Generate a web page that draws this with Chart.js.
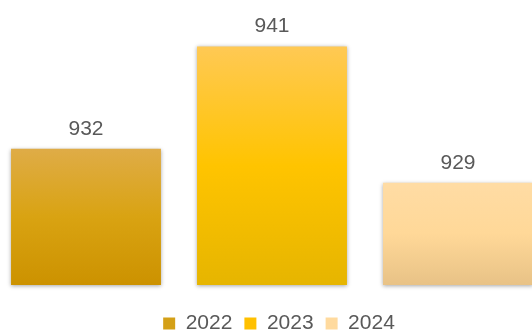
<!DOCTYPE html>
<html>
<head>
<meta charset="utf-8">
<script src="https://cdn.jsdelivr.net/npm/chart.js@4.4.1/dist/chart.umd.min.js"></script>
<style>
    html, body { margin: 0; padding: 0; background: #fff; overflow: hidden; }
    body { width: 532px; height: 331px; position: relative; }
    #wrap { position: absolute; left: -7px; top: 0; width: 558px; height: 344px; }
</style>
</head>
<body>
<div id="wrap"><canvas id="yearChart"></canvas></div>
<script>
// Yearly totals
const years = ['2022', '2023', '2024'];
const totals = [932, 941, 929];
const axisMin = 920;
const axisMax = 945;

// top / middle / bottom gradient stops for each year
const barShades = [
    ['#DFAC47', '#D9A312', '#CC9200'],
    ['#FFC954', '#FFC400', '#E6B500'],
    ['#FFDCA4', '#FFD898', '#E8C286']
];
const legendFill = ['#D4A017', '#FFC000', '#FFDA9E'];
const textColor = '#595959';
const fontFamily = "'Liberation Sans', Arial, sans-serif";

function barGradient(i) {
    return function (context) {
        const chart = context.chart;
        const yScale = chart.scales.y;
        if (!chart.chartArea || !yScale) return barShades[i][1];
        const top = yScale.getPixelForValue(totals[i]);
        const bottom = yScale.getPixelForValue(axisMin);
        const g = chart.ctx.createLinearGradient(0, top, 0, bottom);
        g.addColorStop(0, barShades[i][0]);
        g.addColorStop(0.5, barShades[i][1]);
        g.addColorStop(1, barShades[i][2]);
        return g;
    };
}

// soft drop shadow behind the bars
const barShadow = {
    id: 'barShadow',
    beforeDatasetsDraw(chart) {
        const ctx = chart.ctx;
        ctx.save();
        ctx.shadowColor = 'rgba(0, 0, 0, 0.35)';
        ctx.shadowBlur = 4;
        ctx.shadowOffsetX = 0;
        ctx.shadowOffsetY = 1;
    },
    afterDatasetsDraw(chart) {
        chart.ctx.restore();
    }
};

// value written above each bar
const valueLabels = {
    id: 'valueLabels',
    afterDraw(chart) {
        const ctx = chart.ctx;
        ctx.save();
        ctx.fillStyle = textColor;
        ctx.font = '21px ' + fontFamily;
        ctx.textAlign = 'center';
        ctx.textBaseline = 'alphabetic';
        chart.data.datasets.forEach((ds, i) => {
            const bar = chart.getDatasetMeta(i).data[0];
            ctx.fillText(String(ds.data[0]), bar.x, bar.y - 14);
        });
        ctx.restore();
    }
};

// legend sits a little right of the plot centre
const legendNudge = {
    id: 'legendNudge',
    afterLayout(chart) {
        chart.legend.left += 14;
    }
};

const datasets = years.map((year, i) => ({
    label: year,
    data: [totals[i]],
    base: axisMin,
    backgroundColor: barGradient(i),
    borderWidth: 0,
    clip: false
}));

new Chart(document.getElementById('yearChart'), {
    type: 'bar',
    data: {
        labels: [''],
        datasets: datasets
    },
    options: {
        responsive: true,
        maintainAspectRatio: false,
        animation: false,
        devicePixelRatio: 1,
        layout: { padding: { top: 1, bottom: 0, left: 0, right: 0 } },
        categoryPercentage: 1,
        barPercentage: 0.806,
        plugins: {
            legend: {
                position: 'bottom',
                labels: {
                    boxWidth: 12,
                    boxHeight: 12,
                    padding: 12,
                    color: textColor,
                    font: { size: 21, family: fontFamily },
                    generateLabels: function (chart) {
                        return chart.data.datasets.map((ds, i) => ({
                            text: ds.label,
                            fillStyle: legendFill[i],
                            strokeStyle: legendFill[i],
                            fontColor: textColor,
                            lineWidth: 0,
                            hidden: !chart.isDatasetVisible(i),
                            datasetIndex: i
                        }));
                    }
                }
            },
            tooltip: { enabled: false }
        },
        scales: {
            x: {
                display: true,
                grid: { display: false },
                border: { display: false },
                ticks: { display: false },
                afterFit: function (scale) {
                    scale.height = 16;
                }
            },
            y: {
                display: false,
                min: axisMin,
                max: axisMax
            }
        }
    },
    plugins: [barShadow, valueLabels, legendNudge]
});
</script>
</body>
</html>
